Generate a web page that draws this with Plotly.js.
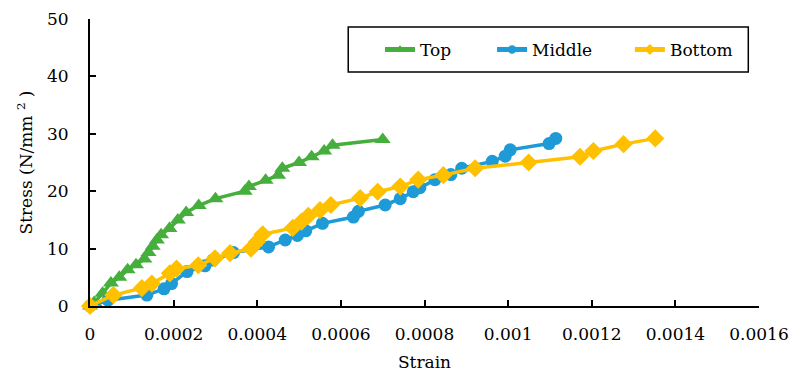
<!DOCTYPE html>
<html>
<head>
<meta charset="utf-8">
<script src="https://cdn.plot.ly/plotly-3.0.1.min.js"></script>
<style>
  html, body { margin: 0; padding: 0; background: #fff; }
  #chart { width: 789px; height: 376px; }
</style>
</head>
<body>
<div id="chart"></div>
<script>
// Stress–strain readings for the three gauge positions
const topStrain = [0, 0.00001, 0.00003, 0.00005, 0.00007, 0.00009, 0.00011, 0.00013, 0.00014, 0.00015, 0.00016, 0.00017, 0.00019, 0.00021, 0.00023, 0.00026, 0.0003, 0.00037, 0.00038, 0.00042, 0.00045, 0.00046, 0.0005, 0.00053, 0.00056, 0.00058, 0.0007];
const topStress = [0, 0.6, 2.2, 4.0, 5.0, 6.3, 7.2, 8.2, 9.3, 10.4, 11.5, 12.4, 13.5, 15.0, 16.3, 17.5, 18.7, 20.0, 20.8, 21.9, 22.8, 24.0, 25.0, 26.0, 27.0, 28.0, 29.0];

const midStrain = [0, 0.000043, 0.000136, 0.000177, 0.000195, 0.000232, 0.000275, 0.000294, 0.000343, 0.000427, 0.000467, 0.000496, 0.000516, 0.000556, 0.00063, 0.000642, 0.000706, 0.000742, 0.000773, 0.000789, 0.000825, 0.000863, 0.000889, 0.000962, 0.000993, 0.001005, 0.001098, 0.001114];
const midStress = [0, 1.0, 1.9, 3.0, 3.9, 6.0, 7.0, 8.0, 9.3, 10.3, 11.5, 12.3, 13.1, 14.4, 15.5, 16.5, 17.6, 18.7, 19.9, 20.6, 22.0, 22.9, 24.0, 25.2, 26.1, 27.2, 28.3, 29.2];

const botStrain = [0, 0.000056, 0.000124, 0.000148, 0.000191, 0.000207, 0.000259, 0.000299, 0.000335, 0.000385, 0.000399, 0.000413, 0.000485, 0.000506, 0.000522, 0.00055, 0.000576, 0.000646, 0.000688, 0.000742, 0.000785, 0.000845, 0.000921, 0.001049, 0.001172, 0.001204, 0.001276, 0.001352];
const botStress = [0, 1.9, 3.1, 3.9, 5.7, 6.5, 7.1, 8.3, 9.2, 10.0, 11.2, 12.5, 13.6, 14.7, 15.7, 16.7, 17.6, 18.8, 19.9, 20.8, 22.0, 22.8, 24.0, 25.0, 26.0, 27.0, 28.2, 29.2];

const seriesNames = ['Top', 'Middle', 'Bottom'];

const xTickVals = [0, 0.0002, 0.0004, 0.0006, 0.0008, 0.001, 0.0012, 0.0014, 0.0016];
const xTickText = ['0', '0.0002', '0.0004', '0.0006', '0.0008', '0.001', '0.0012', '0.0014', '0.0016'];
const yTickVals = [0, 10, 20, 30, 40, 50];

const FONT = 'DejaVu Serif, Liberation Serif, serif';

function series(x, y, name, color, symbol, size, legendId) {
  return {
    x: x, y: y, name: name, type: 'scatter', mode: 'lines+markers',
    line: { color: color, width: 3.5 },
    marker: { color: color, symbol: symbol, size: size },
    cliponaxis: false,
    legend: legendId
  };
}

const data = [
  series(topStrain, topStress, seriesNames[0], '#45AE3C', 'triangle-up', 14, 'legend'),
  series(midStrain, midStress, seriesNames[1], '#1E9BD7', 'circle', 13, 'legend2'),
  series(botStrain, botStress, seriesNames[2], '#FFC000', 'diamond', 14, 'legend3')
];

// one legend box per entry so each key sits at its own spot in the framed key area
function legendAt(x) {
  return {
    orientation: 'h', x: x, y: 0.955, xanchor: 'left', yanchor: 'top',
    bgcolor: 'rgba(0,0,0,0)', borderwidth: 0,
    font: { family: FONT, size: 17, color: '#000' },
    itemsizing: 'constant'
  };
}

const layout = {
  width: 789, height: 376,
  margin: { l: 90, r: 30, t: 19, b: 70, autoexpand: false },
  paper_bgcolor: '#fff', plot_bgcolor: '#fff',
  font: { family: FONT, size: 17, color: '#000' },
  showlegend: true,
  legend: legendAt(0.4335),
  legend2: legendAt(0.601),
  legend3: legendAt(0.807),
  shapes: [{
    type: 'rect', xref: 'paper', yref: 'paper',
    x0: 0.386, x1: 0.984, y0: 0.815, y1: 0.972,
    line: { color: '#000', width: 1.5 }, fillcolor: 'rgba(0,0,0,0)'
  }],
  xaxis: {
    range: [0, 0.0016], tickvals: xTickVals, ticktext: xTickText,
    showgrid: false, zeroline: false, showline: true, linecolor: '#000', linewidth: 2,
    ticks: 'inside', ticklen: 6, tickwidth: 2, tickcolor: '#000',
    ticklabelstandoff: 12,
    tickfont: { family: FONT, size: 17 },
    title: { text: 'Strain', font: { family: FONT, size: 17 }, standoff: 13 }
  },
  yaxis: {
    range: [0, 50], tickvals: yTickVals,
    showgrid: false, zeroline: false, showline: true, linecolor: '#000', linewidth: 2,
    ticks: 'inside', ticklen: 6, tickwidth: 2, tickcolor: '#000',
    ticklabelstandoff: 16,
    tickfont: { family: FONT, size: 17 },
    title: { text: 'Stress (N/mm <sup>2</sup> )', font: { family: FONT, size: 17 }, standoff: 10 }
  }
};

Plotly.newPlot('chart', data, layout, { displayModeBar: false, staticPlot: true }).then(function (gd) {
  // smaller key symbols inside the legends
  gd.querySelectorAll('.legendpoints .scatterpts').forEach(function (p) {
    const t = p.getAttribute('transform') || '';
    p.setAttribute('transform', t + ' scale(0.7)');
  });
});
</script>
</body>
</html>
